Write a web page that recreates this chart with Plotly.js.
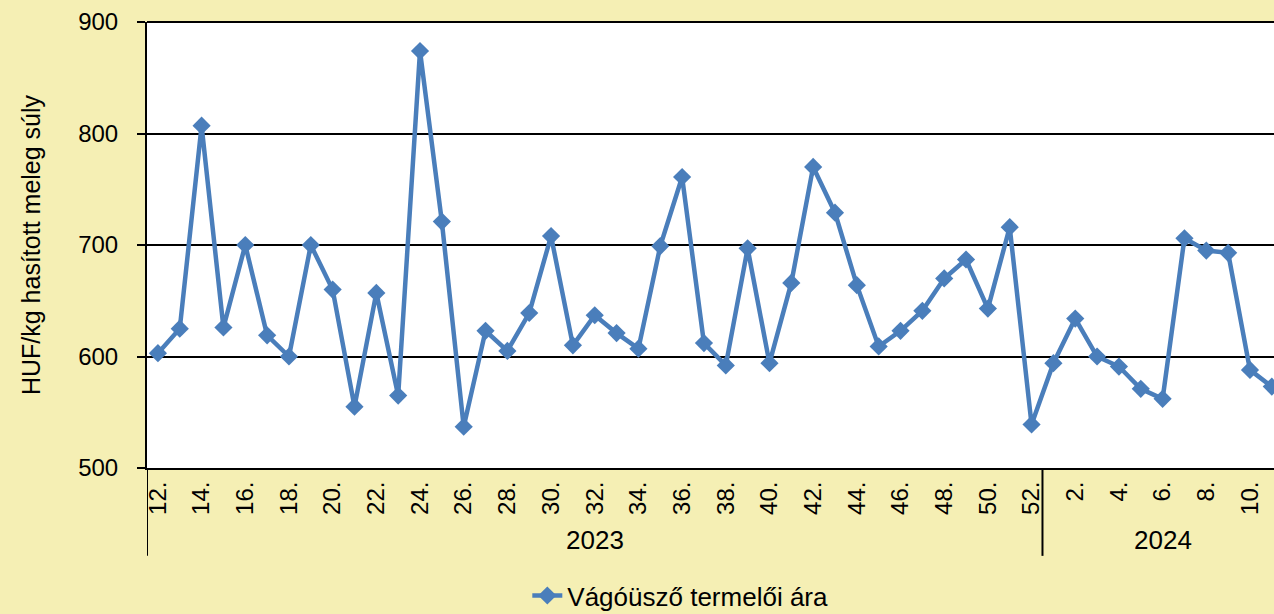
<!DOCTYPE html>
<html>
<head>
<meta charset="utf-8">
<script src="https://cdn.plot.ly/plotly-3.0.1.min.js"></script>
<style>
html,body{margin:0;padding:0;background:#F5EFB4;overflow:hidden;}
#chart{width:1274px;height:614px;}
</style>
</head>
<body>
<div id="chart"></div>
<script>
// Weeks of 2023 (12.–52.) and 2024 (1.–11.)
const weeks2023 = [12,13,14,15,16,17,18,19,20,21,22,23,24,25,26,27,28,29,30,31,32,33,34,35,36,37,38,39,40,41,42,43,44,45,46,47,48,49,50,51,52];
const weeks2024 = [1,2,3,4,5,6,7,8,9,10,11];
const years = ["2023", "2024"];
// Vágóüsző termelői ára, HUF/kg hasított meleg súly
const prices2023 = [603,625,807,626,700,619,600,700,660,555,657,565,874,721,537,623,605,639,708,610,637,621,607,699,761,612,592,697,594,666,770,729,664,609,623,641,670,687,643,716,539];
const prices2024 = [594,634,600,591,571,562,706,695,693,588,573];
const seriesName = "Vágóüsző termelői ára";
const yTitle = "HUF/kg hasított meleg súly";

const weekLabels = weeks2023.concat(weeks2024).map(w => w + ".");
const values = prices2023.concat(prices2024);
const xIdx = values.map((v, i) => i);
const tickvals = xIdx.filter(i => i % 2 === 0);
const ticktext = tickvals.map(i => weekLabels[i]);

const n23 = weeks2023.length;
const nAll = values.length;
const split = n23 - 0.5;
const xMin = -0.5;
const xMax = nAll - 0.9;

const font = {family: "Liberation Sans, Arial, sans-serif", color: "#000000"};
const lineCol = "#4A7EBB";

const trace = {
  x: xIdx, y: values, type: "scatter", mode: "lines+markers", name: seriesName,
  line: {color: lineCol, width: 4.5},
  marker: {symbol: "diamond", size: 14, color: lineCol},
  cliponaxis: true
};

const groupDepth = -0.197;
const layout = {
  width: 1274, height: 614,
  paper_bgcolor: "#F5EFB4", plot_bgcolor: "#FFFFFF",
  margin: {l: 147, r: 0, t: 22, b: 146, autoexpand: false},
  font: Object.assign({size: 24}, font),
  showlegend: true,
  legend: {orientation: "h", xref: "container", yref: "container", x: 0.534, xanchor: "center", y: 0.03, yanchor: "middle",
           bgcolor: "rgba(0,0,0,0)", font: Object.assign({size: 26}, font)},
  xaxis: {
    range: [xMin, xMax], tickmode: "array", tickvals: tickvals, ticktext: ticktext,
    tickangle: -90, showgrid: false, zeroline: false, automargin: false,
    showline: true, linecolor: "#000", linewidth: 2,
    ticks: "", ticklabelstandoff: 2, tickfont: Object.assign({size: 24}, font), fixedrange: true
  },
  yaxis: {
    range: [500, 900], dtick: 100, tick0: 500, automargin: false,
    showgrid: true, gridcolor: "#000", gridwidth: 2,
    zeroline: false, showline: true, linecolor: "#000", linewidth: 2,
    ticks: "outside", ticklen: 8, tickcolor: "#000", tickwidth: 2,
    ticklabelstandoff: 14,
    tickfont: Object.assign({size: 24}, font),
    title: {text: yTitle, font: Object.assign({size: 25}, font), standoff: 30},
    fixedrange: true
  },
  shapes: [
    {type: "line", xref: "x", yref: "paper", x0: xMin, x1: xMin, y0: 0, y1: groupDepth, line: {color: "#000", width: 2}},
    {type: "line", xref: "x", yref: "paper", x0: split, x1: split, y0: 0, y1: groupDepth, line: {color: "#000", width: 2}},
    {type: "line", xref: "paper", yref: "paper", x0: 0, x1: 1, y0: 1, y1: 1, line: {color: "#000", width: 2}}
  ],
  annotations: [
    {xref: "x", yref: "paper", x: (xMin + split) / 2, y: -0.162, text: years[0], showarrow: false,
     font: Object.assign({size: 26}, font), yanchor: "middle"},
    {xref: "x", yref: "paper", x: (split + nAll - 0.5) / 2, y: -0.162, text: years[1], showarrow: false,
     font: Object.assign({size: 26}, font), yanchor: "middle"}
  ]
};

Plotly.newPlot("chart", [trace], layout, {displayModeBar: false, staticPlot: true});
</script>
</body>
</html>
